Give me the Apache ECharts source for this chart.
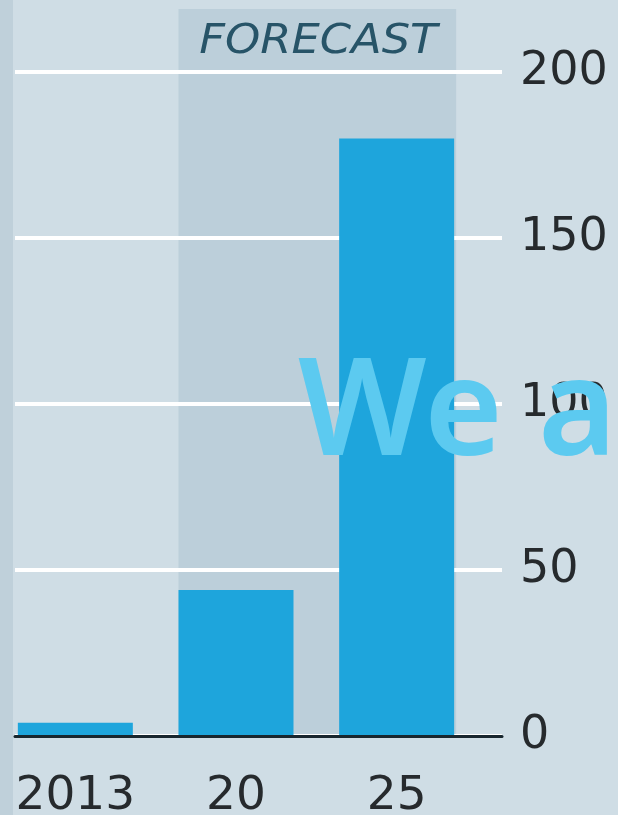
<!DOCTYPE html>
<html>
<head>
<meta charset="utf-8">
<script src="https://cdn.jsdelivr.net/npm/echarts@6/dist/echarts.min.js"></script>
<style>
  html, body { margin: 0; padding: 0; background: #cfdde5; }
  #main { width: 618px; height: 815px; }
</style>
</head>
<body>
<div id="main"></div>
<script>
var years = ['2013', '20', '25'];
var values = [4, 44, 180];
var yTicks = [0, 50, 100, 150, 200];
var forecastFrom = '20';
var forecastTo = '25';
var forecastLabel = 'FORECAST';
var overlayText = 'We a';

var chart = echarts.init(document.getElementById('main'));
var barW = 115;

chart.setOption({
  backgroundColor: '#cfdde5',
  animation: false,
  grid: [
    // bars
    { left: -5, right: 141, top: 72, bottom: 79, containLabel: false, outerBoundsMode: 'none' },
    // gridlines + right axis
    { left: 15, right: 116, top: 72, bottom: 79, containLabel: false, outerBoundsMode: 'none' }
  ],
  xAxis: [
    {
      type: 'category', gridIndex: 0, data: years,
      axisLine: { show: false }, axisTick: { show: false },
      axisLabel: {
        color: '#262a2d', fontSize: 47, fontFamily: 'DejaVu Sans',
        margin: 37, verticalAlign: 'top'
      }
    },
    {
      type: 'value', gridIndex: 1, min: 0, max: 1, z: 10,
      axisLabel: { show: false }, axisTick: { show: false },
      splitLine: { show: false },
      axisLine: { show: true, lineStyle: { color: '#18262e', width: 3 } }
    }
  ],
  yAxis: [
    { type: 'value', gridIndex: 0, min: 0, max: 200, show: false },
    {
      type: 'value', gridIndex: 1, min: 0, max: yTicks[yTicks.length - 1],
      interval: 50, position: 'right',
      axisLine: { show: false }, axisTick: { show: false },
      axisLabel: {
        color: '#262a2d', fontSize: 46, fontFamily: 'DejaVu Sans', margin: 18,
        formatter: function (v) { return yTicks.indexOf(v) >= 0 ? String(v) : ''; }
      },
      splitLine: { lineStyle: { color: '#ffffff', width: 4 } }
    }
  ],
  series: [
    {
      type: 'bar', xAxisIndex: 0, yAxisIndex: 0, z: 5,
      data: values, barWidth: barW,
      itemStyle: { color: '#1ea5dc' }
    }
  ]
});

// forecast band and labels, placed from the axes' own scales
var xL = chart.convertToPixel({ xAxisIndex: 0 }, forecastFrom) - barW / 2;
var xR = chart.convertToPixel({ xAxisIndex: 0 }, forecastTo) + barW / 2 + 2;
var yTop = chart.convertToPixel({ yAxisIndex: 0 }, 219);
var yBot = chart.convertToPixel({ yAxisIndex: 0 }, 0);
var midX = (xL + xR) / 2;

chart.setOption({
  graphic: [
    { type: 'rect', z: -10, silent: true,
      shape: { x: 0, y: 0, width: 13, height: 815 },
      style: { fill: '#bfd0da' } },
    { type: 'rect', z: -10, silent: true,
      shape: { x: xL, y: yTop, width: xR - xL, height: yBot - yTop },
      style: { fill: '#bccfda' } },
    { type: 'text', z: 20, silent: true,
      x: midX + 1, y: 43, scaleX: 1.12,
      style: {
        text: forecastLabel, fill: '#275468',
        font: 'italic 40px "DejaVu Sans"',
        align: 'center', verticalAlign: 'middle'
      } },
    { type: 'text', z: 100, silent: true,
      x: 298, y: 349,
      style: {
        text: overlayText, fill: '#5ccaf0',
        font: '600 135px "Noto Sans"',
        verticalAlign: 'top'
      } }
  ]
});
</script>
</body>
</html>
